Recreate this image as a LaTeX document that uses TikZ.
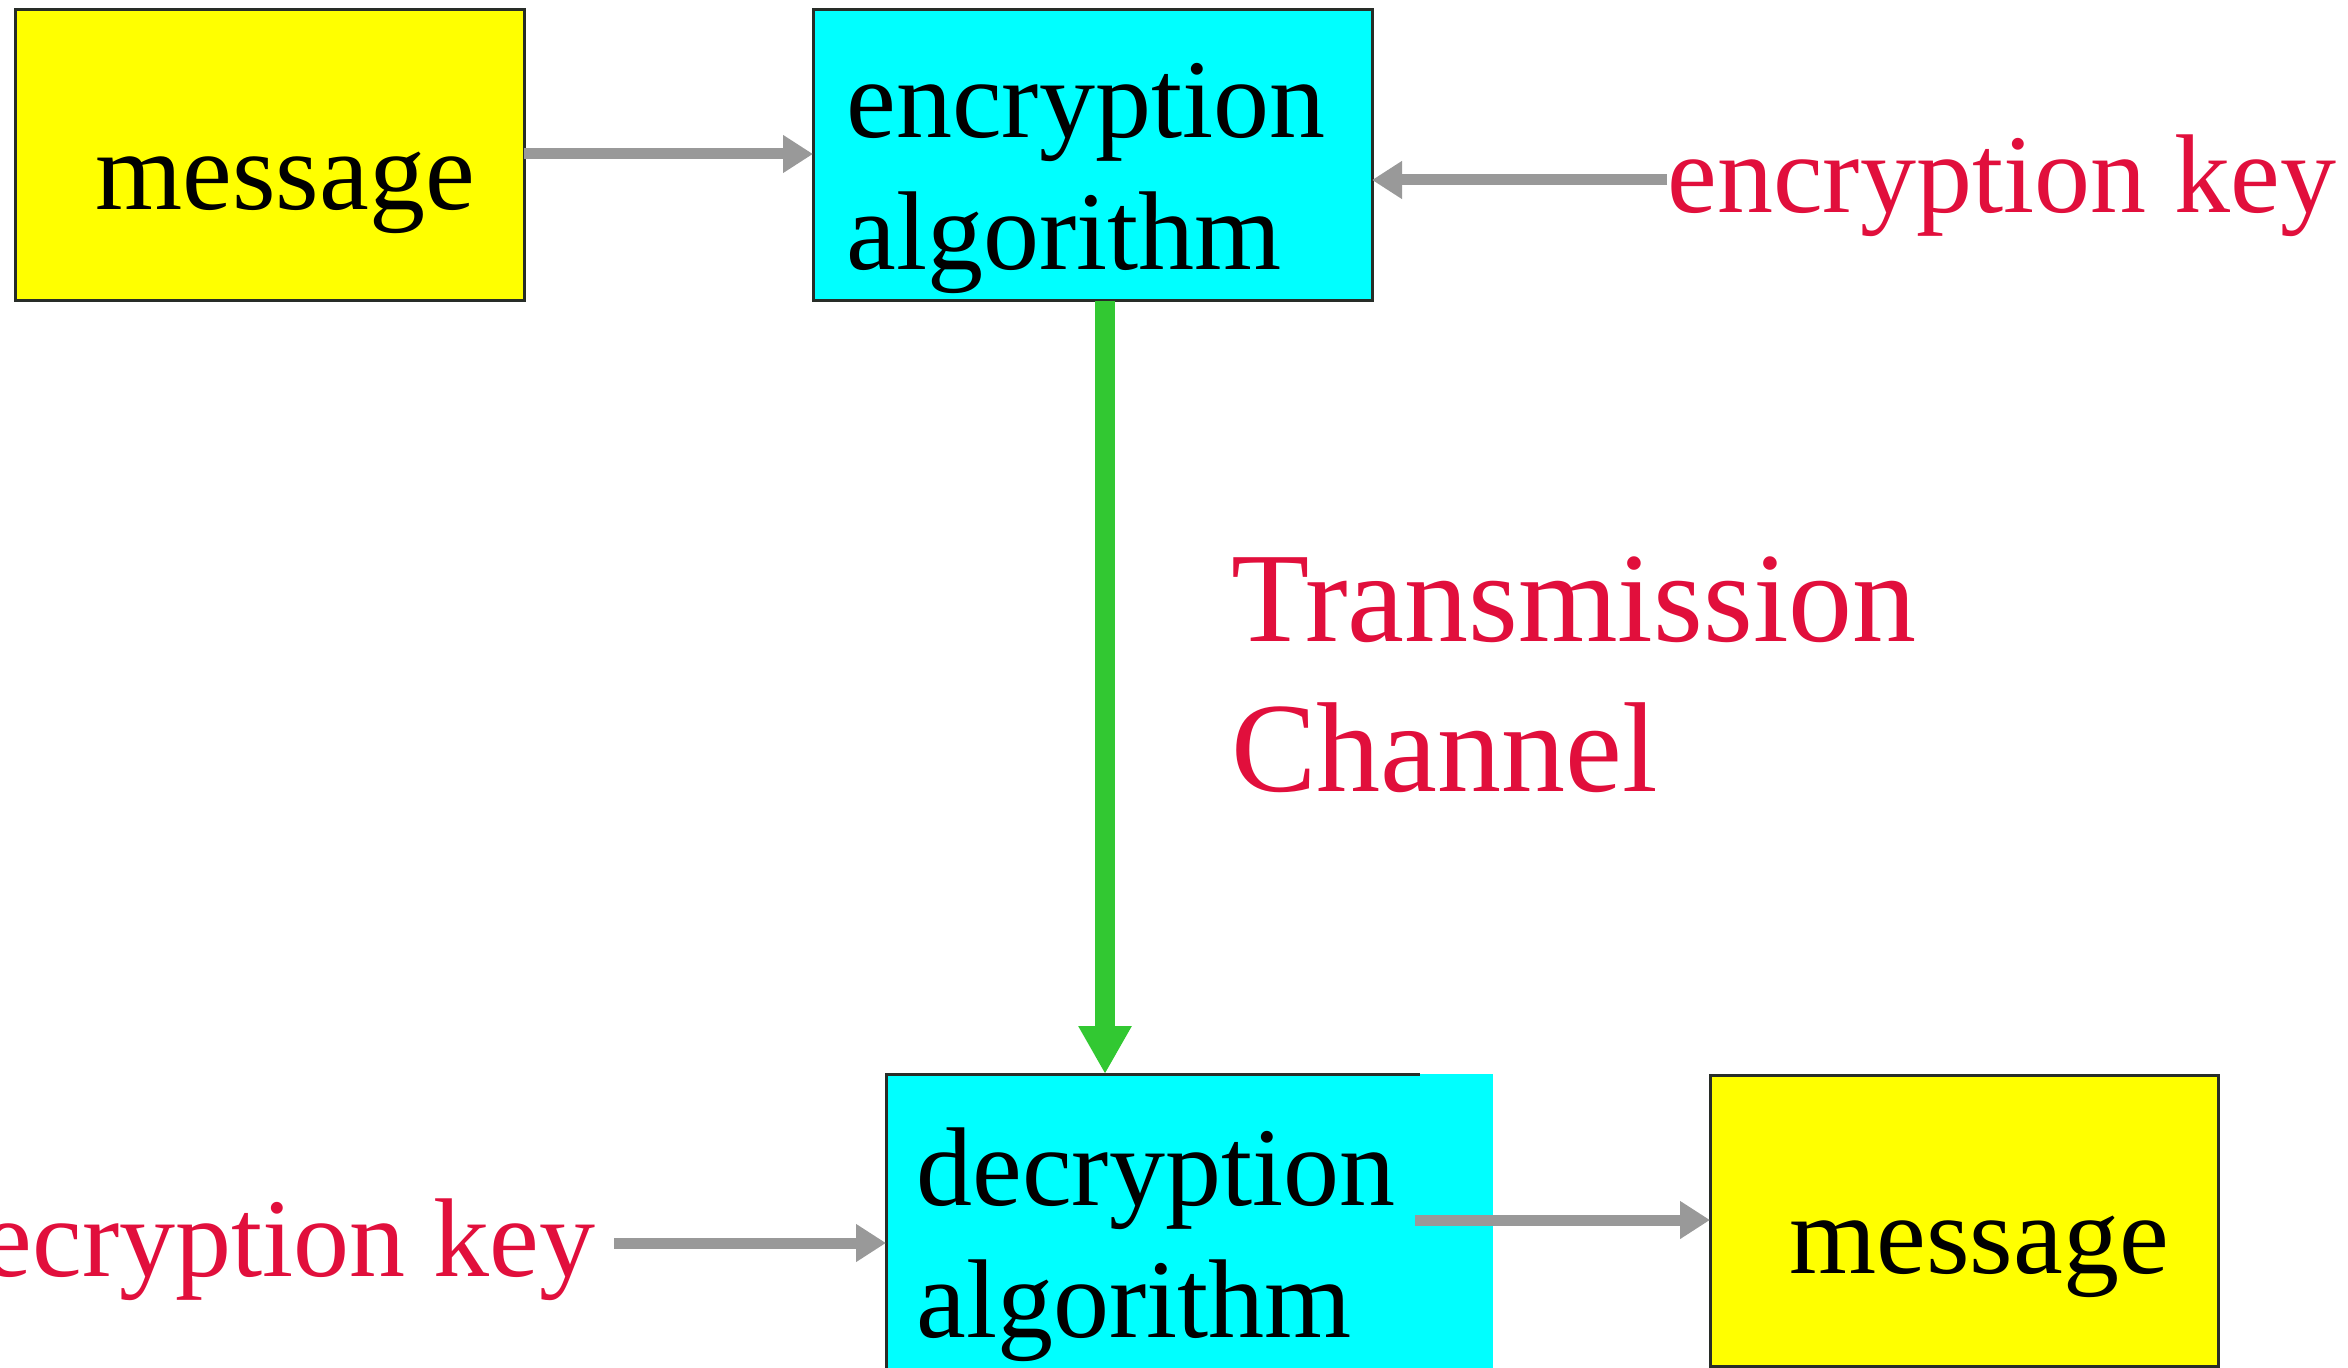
\documentclass[tikz,border=0pt]{standalone}
\usepackage{fontspec}
\setmainfont{Liberation Serif}
\usetikzlibrary{arrows.meta}
\definecolor{keyred}{RGB}{225,15,60}
\definecolor{arrgray}{RGB}{153,153,153}
\definecolor{chgreen}{RGB}{50,200,50}
\definecolor{boxedge}{RGB}{40,45,40}
\definecolor{boxcyan}{RGB}{0,255,255}
\definecolor{boxyellow}{RGB}{255,255,0}
\begin{document}
\begin{tikzpicture}[x=0.5pt,y=-0.5pt,
  box/.style={draw=boxedge, line width=1.5pt, inner sep=0pt, outer sep=0pt},
  lbl/.style={anchor=base west, inner sep=0pt, font=\fontsize{56}{66}\selectfont},
  redlbl/.style={lbl, text=keyred},
  biglbl/.style={anchor=base west, inner sep=0pt, text=keyred, font=\fontsize{64}{75}\selectfont},
  garrow/.style={draw=arrgray, line width=5.5pt, -{Triangle[length=15pt,width=18pt]}},
  charrow/.style={draw=chgreen, line width=10pt, -{Triangle[length=24pt,width=25pt]}}]
\useasboundingbox (0,0) rectangle (2348,1368);
\clip (0,0) rectangle (2348,1368);
% boxes
\node[box, fill=boxyellow, minimum width=254.5pt, minimum height=145.5pt] (msg1) at (269.5,155.5) {};
\node[box, fill=boxcyan, minimum width=279.5pt, minimum height=145.5pt] (enc) at (1092.5,155.5) {};
\node[fill=boxcyan, inner sep=0pt, outer sep=0pt, minimum width=303.5pt, minimum height=158pt] (dec) at (1189.5,1232) {};
\draw[boxedge, line width=1.5pt] (dec.south west) -- (dec.north west) -- ++(534,0);
\node[box, fill=boxyellow, minimum width=254pt, minimum height=145.5pt] (msg2) at (1964,1220.5) {};
% texts
\node[lbl] (msg1txt) at (95,210) {message};
\node[lbl] (enctxt1) at (846,138) {encryption};
\node[lbl] (enctxt2) at (846,270) {algorithm};
\node[redlbl] (enckey) at (1667,213) {encryption key};
\node[biglbl] (trans) at (1231,641) {Transmission};
\node[biglbl] (chan) at (1231,791) {Channel};
\node[redlbl, anchor=base east] (deckey) at (596,1276) {decryption key};
\node[lbl] (dectxt1) at (916,1205) {decryption};
\node[lbl] (dectxt2) at (916,1337) {algorithm};
\node[lbl] (msg2txt) at (1789,1273) {message};
% connectors
\draw[garrow] (msg1.east |- 0,154) -- (enc.west |- 0,154);
\draw[garrow] (enckey.west |- 0,180) -- (enc.east |- 0,180);
\draw[charrow] (enc.south -| 1105,0) -- (dec.north -| 1105,0);
\draw[garrow] (deckey.east |- 0,1243) ++(18,0) -- (dec.west |- 0,1243);
\draw[garrow] (dec.north -| 1415,0) ++(0,146) -- (msg2.west |- 0,1220);
\end{tikzpicture}
\end{document}
